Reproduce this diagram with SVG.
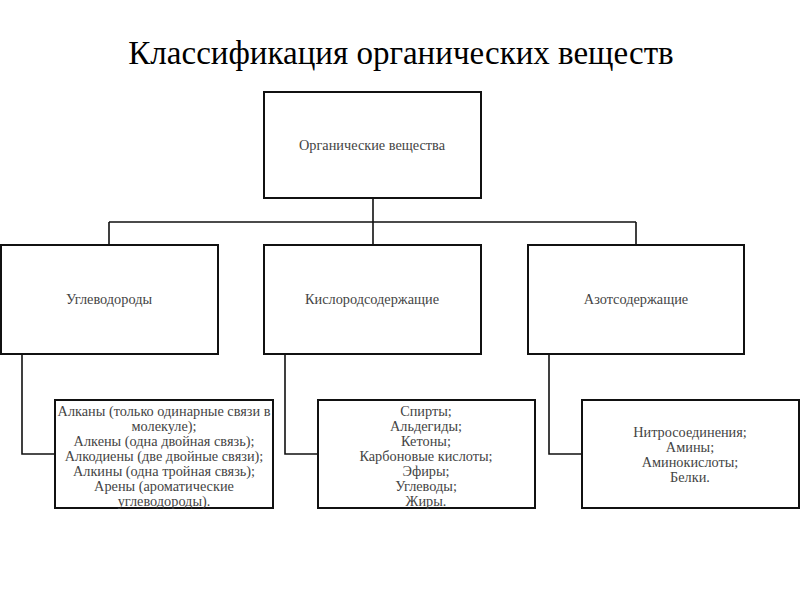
<svg xmlns="http://www.w3.org/2000/svg" width="800" height="600" viewBox="0 0 800 600">
<style>
.box{fill:#fff;stroke:#111;stroke-width:2}
.t{font-family:"Liberation Serif","Times New Roman",serif;font-size:14.3px;fill:#444;text-anchor:middle}
.title{font-family:"Liberation Serif","Times New Roman",serif;font-size:33px;fill:#000;text-anchor:middle}
.c{fill:none;stroke:#111;stroke-width:1.6}
</style>
<rect width="800" height="600" fill="#fff"/>
<text class="title" x="401" y="64">Классификация органических веществ</text>
<g id="connectors">
<path class="c" d="M373 198V222M109 222H636M109 222V245M373 222V245M636 222V245"/>
<path class="c" d="M22 354V454H55"/>
<path class="c" d="M285 354V454H318"/>
<path class="c" d="M549 354V454H582"/>
</g>
<g id="root"><rect class="box" x="264" y="92" width="217" height="106"/><text class="t" x="372" y="150">Органические вещества</text></g>
<g id="hydrocarbons"><rect class="box" x="1" y="245" width="217" height="109"/><text class="t" x="109" y="304">Углеводороды</text></g>
<g id="oxygen"><rect class="box" x="264" y="245" width="217" height="109"/><text class="t" x="372" y="304">Кислородсодержащие</text></g>
<g id="nitrogen"><rect class="box" x="528" y="245" width="216" height="109"/><text class="t" x="636" y="304">Азотсодержащие</text></g>
<g id="hydrocarbons-list"><rect class="box" x="55" y="400" width="218" height="108"/>
<text class="t" x="164" y="416">Алканы (только одинарные связи в</text>
<text class="t" x="164" y="431">молекуле);</text>
<text class="t" x="164" y="446">Алкены (одна двойная связь);</text>
<text class="t" x="164" y="461">Алкодиены (две двойные связи);</text>
<text class="t" x="164" y="476">Алкины (одна тройная связь);</text>
<text class="t" x="164" y="491">Арены (ароматические</text>
<text class="t" x="164" y="506">углеводороды).</text>
</g>
<g id="oxygen-list"><rect class="box" x="318" y="400" width="217" height="108"/>
<text class="t" x="426" y="416">Спирты;</text>
<text class="t" x="426" y="431">Альдегиды;</text>
<text class="t" x="426" y="446">Кетоны;</text>
<text class="t" x="426" y="461">Карбоновые кислоты;</text>
<text class="t" x="426" y="476">Эфиры;</text>
<text class="t" x="426" y="491">Углеводы;</text>
<text class="t" x="426" y="506">Жиры.</text>
</g>
<g id="nitrogen-list"><rect class="box" x="582" y="400" width="217" height="108"/>
<text class="t" x="690" y="437">Нитросоединения;</text>
<text class="t" x="690" y="452">Амины;</text>
<text class="t" x="690" y="467">Аминокислоты;</text>
<text class="t" x="690" y="482">Белки.</text>
</g>
</svg>
